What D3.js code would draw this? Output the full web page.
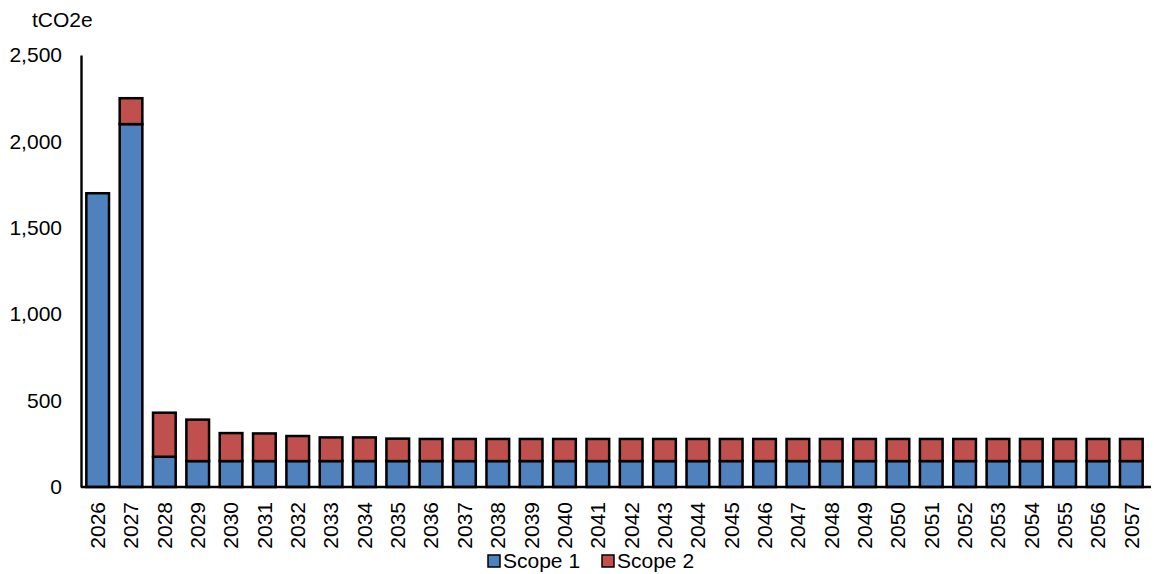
<!DOCTYPE html>
<html><head><meta charset="utf-8">
<script src="https://cdn.jsdelivr.net/npm/d3@7"></script>
<style>body{margin:0;background:#fff}svg{display:block}text{font-family:"Liberation Sans",Arial,sans-serif;fill:#000}</style>
</head><body>
<svg id="c" width="1154" height="574"></svg>
<script>
const years = ["2026","2027","2028","2029","2030","2031","2032","2033","2034","2035","2036","2037","2038","2039","2040","2041","2042","2043","2044","2045","2046","2047","2048","2049","2050","2051","2052","2053","2054","2055","2056","2057"];
const scope1 = [1700,2100,175,150,150,150,150,150,150,150,150,150,150,150,150,150,150,150,150,150,150,150,150,150,150,150,150,150,150,150,150,150];
const scope2 = [0,150,255,240,162,160,145,137,137,130,128,128,128,128,128,128,128,128,128,128,128,128,128,128,128,128,128,128,128,128,128,128];
const yTicks = [0,500,1000,1500,2000,2500];
const seriesNames = ["Scope 1","Scope 2"];
const colors = ["#4f81bd","#c0504d"];

const svg = d3.select("#c");
const x0 = 81, x1 = 1148, yTop = 55, yBot = 487;
const x = d3.scaleBand().domain(years).range([x0, x1]).paddingInner(0.32).paddingOuter(0.16);
const y = d3.scaleLinear().domain([0,2500]).range([yBot, yTop]);

const data = years.map((yr,i)=>({year:yr, s1:scope1[i], s2:scope2[i]}));
const stack = d3.stack().keys(["s1","s2"])(data);

const g = svg.append("g");
stack.forEach((layer,k)=>{
  g.selectAll(null).data(layer.filter(d=>d[1]-d[0]>0)).enter().append("rect")
    .attr("x", d=>x(d.data.year))
    .attr("width", x.bandwidth())
    .attr("y", d=>y(d[1]))
    .attr("height", d=>y(d[0])-y(d[1]))
    .attr("fill", colors[k])
    .attr("stroke","#000").attr("stroke-width",2.5);
});

// y axis
const ya = svg.append("g").attr("transform",`translate(${x0},0)`)
  .call(d3.axisLeft(y).tickValues(yTicks).tickSize(0).tickPadding(19).tickFormat(d3.format(",")));
ya.select(".domain").attr("stroke","#000").attr("stroke-width",2.4);
ya.selectAll("text").style("font-size","21px").attr("font-family","Liberation Sans, Arial, sans-serif");

// x axis
const xa = svg.append("g").attr("transform",`translate(0,${yBot})`)
  .call(d3.axisBottom(x).tickSize(0).tickSizeOuter(0));
xa.select(".domain").attr("d",`M${x0},0H1151`).attr("stroke","#000").attr("stroke-width",2.4);
xa.selectAll("text").style("font-size","21px").attr("font-family","Liberation Sans, Arial, sans-serif")
  .attr("transform","rotate(-90)").attr("text-anchor","end")
  .attr("x",-15).attr("y",0).attr("dy","0.35em");

// unit label
svg.append("text").attr("x",32).attr("y",27).style("font-size","21px").text("tCO2e");

// legend
const legX = [488, 602];
seriesNames.forEach((n,i)=>{
  svg.append("rect").attr("x",legX[i]).attr("y",555).attr("width",12).attr("height",12)
    .attr("fill",colors[i]).attr("stroke","#000").attr("stroke-width",1.5);
  svg.append("text").attr("x",legX[i]+15).attr("y",568).style("font-size","21px").text(n);
});
</script>
</body></html>
